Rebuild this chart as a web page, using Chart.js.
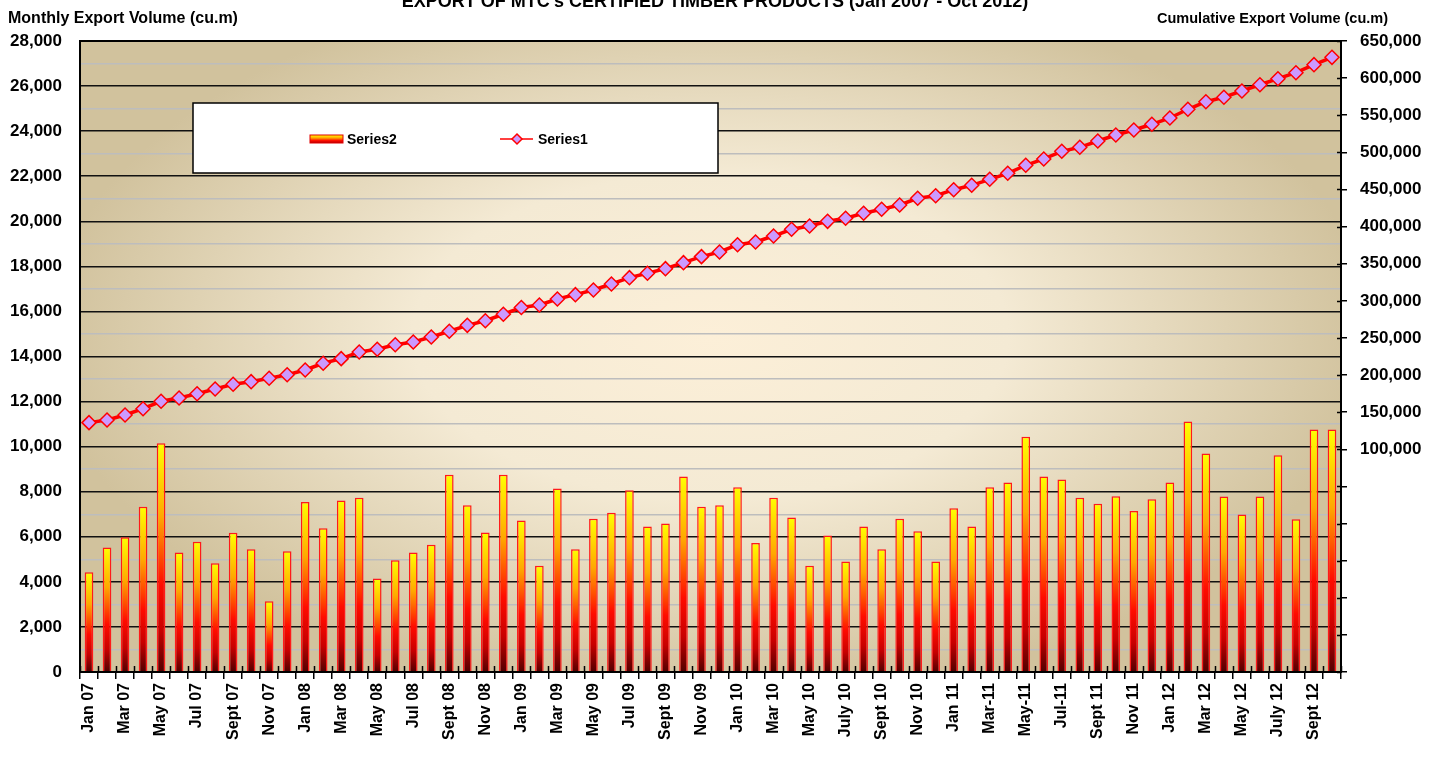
<!DOCTYPE html>
<html>
<head>
<meta charset="utf-8">
<script src="https://cdn.jsdelivr.net/npm/chart.js@4/dist/chart.umd.min.js"></script>
<style>
  body { margin: 0; background: #fff; }
  #wrap { width: 1438px; height: 765px; }
</style>
</head>
<body>
<div id="wrap"><canvas id="exportChart" width="1438" height="765"></canvas></div>
<script>
// month categories, Jan 07 .. Oct 12
const months = [
  'Jan 07', 'Feb 07', 'Mar 07', 'Apr 07', 'May 07', 'Jun 07', 'Jul 07', 'Aug 07', 'Sept 07', 'Oct 07', 'Nov 07', 'Dec 07',
  'Jan 08', 'Feb 08', 'Mar 08', 'Apr 08', 'May 08', 'Jun 08', 'Jul 08', 'Aug 08', 'Sept 08', 'Oct 08', 'Nov 08', 'Dec 08',
  'Jan 09', 'Feb 09', 'Mar 09', 'Apr 09', 'May 09', 'Jun 09', 'Jul 09', 'Aug 09', 'Sept 09', 'Oct 09', 'Nov 09', 'Dec 09',
  'Jan 10', 'Feb 10', 'Mar 10', 'Apr 10', 'May 10', 'June 10', 'July 10', 'Aug 10', 'Sept 10', 'Oct 10', 'Nov 10', 'Dec 10',
  'Jan 11', 'Feb-11', 'Mar-11', 'Apr-11', 'May-11', 'Jun-11', 'Jul-11', 'Aug-11', 'Sept 11', 'Oct 11', 'Nov 11', 'Dec 11',
  'Jan 12', 'Feb 12', 'Mar 12', 'Apr 12', 'May 12', 'June 12', 'July 12', 'Aug 12', 'Sept 12', 'Oct 12'
];

// Series2 - monthly export volume (cu.m)
const monthlyVolume = [
  4430, 5530, 5980, 7330, 10150, 5300, 5780, 4830, 6180, 5450, 3140, 5360,
  7540, 6380, 7610, 7730, 4150, 4960, 5300, 5650, 8750, 7400, 6190, 8750,
  6720, 4710, 8140, 5450, 6800, 7070, 8070, 6460, 6590, 8680, 7330, 7400,
  8200, 5720, 7730, 6860, 4710, 6060, 4900, 6460, 5450, 6800, 6250, 4900,
  7270, 6460, 8200, 8410, 10440, 8680, 8540, 7730, 7470, 7800, 7140, 7670,
  8410, 11120, 9700, 7790, 6990, 7790, 9620, 6780, 10760, 10760
];

// Series1 - cumulative export volume (cu.m)
const cumulativeVolume = [
  135900, 139500, 146200, 154700, 164700, 169100, 174900, 181300, 187600, 191100, 195700, 200500,
  206800, 215900, 222100, 231100, 234700, 240900, 244600, 251300, 259000, 267000, 273200, 281900,
  291000, 294400, 302500, 308300, 314600, 322700, 331200, 337100, 343300, 351400, 359500, 365800,
  375600, 379300, 387300, 396400, 400800, 407100, 411200, 417900, 423300, 429100, 438100, 441600,
  449700, 455600, 463700, 471800, 482600, 491100, 501400, 506800, 515300, 523400, 530100, 537800,
  546300, 558000, 568200, 574200, 582700, 591100, 599200, 607300, 618100, 628000
];

const chartTitle = "EXPORT OF MTC's CERTIFIED TIMBER PRODUCTS (Jan 2007 - Oct 2012)";
const leftTitle = 'Monthly Export Volume (cu.m)';
const rightTitle = 'Cumulative Export Volume (cu.m)';

const FONT = "'Liberation Sans', Arial, sans-serif";
Chart.defaults.font.family = FONT;
Chart.defaults.font.weight = 'bold';
Chart.defaults.color = '#000';

const fmt = v => v.toLocaleString('en-US');

function barGradient(ctx, top, base) {
    const g = ctx.createLinearGradient(0, top, 0, base);
    g.addColorStop(0, '#ffff00');
    g.addColorStop(0.32, '#ffa800');
    g.addColorStop(0.62, '#ff0c00');
    g.addColorStop(0.82, '#c80000');
    g.addColorStop(1, '#500000');
    return g;
}

// cream background with darker tan edges
const plotBackground = {
    id: 'plotBackground',
    beforeDraw(chart) {
        const { ctx, chartArea: a } = chart;
        ctx.save();
        ctx.fillStyle = '#fff';
        ctx.fillRect(0, 0, chart.width, chart.height);
        const cx = (a.left + a.right) / 2, cy = (a.top + a.bottom) / 2 - 20;
        const rx = (a.right - a.left) / 2 * 1.05, ry = (a.bottom - a.top) / 2 * 1.15;
        ctx.beginPath();
        ctx.rect(a.left, a.top, a.right - a.left, a.bottom - a.top);
        ctx.clip();
        ctx.translate(cx, cy);
        ctx.scale(rx / ry, 1);
        const g = ctx.createRadialGradient(0, 0, 0, 0, 0, ry);
        g.addColorStop(0, '#fcefd8');
        g.addColorStop(0.45, '#f4ead4');
        g.addColorStop(1, '#d1c29d');
        ctx.fillStyle = g;
        ctx.fillRect(-ry * 2, -ry * 2, ry * 4, ry * 4);
        ctx.restore();
    }
};

// titles, plot border, inner tick marks and the legend box
const decorations = {
    id: 'decorations',
    afterDraw(chart) {
        const { ctx, chartArea: a, scales } = chart;
        ctx.save();
        ctx.strokeStyle = '#000';
        ctx.lineWidth = 2;
        ctx.strokeRect(a.left, a.top, a.right - a.left, a.bottom - a.top);

        // tick marks also cross into the plot
        ctx.lineWidth = 1.5;
        ctx.beginPath();
        const xs = scales.x;
        for (let i = 0; i <= months.length; i++) {
            const px = Math.round(xs.getPixelForValue(i - 0.5)) + 0.5;
            ctx.moveTo(px, a.bottom - 6);
            ctx.lineTo(px, a.bottom);
        }
        scales.y2.ticks.forEach(t => {
            const py = Math.round(scales.y2.getPixelForValue(t.value)) + 0.5;
            ctx.moveTo(a.right - 4, py);
            ctx.lineTo(a.right, py);
        });
        ctx.stroke();

        ctx.fillStyle = '#000';
        ctx.font = 'bold 18px ' + FONT;
        ctx.textAlign = 'center';
        ctx.textBaseline = 'alphabetic';
        ctx.fillText(chartTitle, 715, 7);

        ctx.font = 'bold 16px ' + FONT;
        ctx.textAlign = 'left';
        ctx.fillText(leftTitle, 8, 23);
        ctx.font = 'bold 14.5px ' + FONT;
        ctx.textAlign = 'right';
        ctx.fillText(rightTitle, 1388, 23);

        // legend
        ctx.textAlign = 'left';
        ctx.fillStyle = '#fff';
        ctx.fillRect(193, 103, 525, 70);
        ctx.lineWidth = 1.5;
        ctx.strokeRect(193, 103, 525, 70);

        const ds = chart.data.datasets;
        ctx.fillStyle = barGradient(ctx, 135, 144);
        ctx.fillRect(310, 135, 33, 8);
        ctx.strokeStyle = '#e00000';
        ctx.lineWidth = 1;
        ctx.strokeRect(310, 135, 33, 8);

        ctx.strokeStyle = '#ff0000';
        ctx.lineWidth = 1.5;
        ctx.beginPath();
        ctx.moveTo(500, 139);
        ctx.lineTo(533, 139);
        ctx.stroke();
        ctx.beginPath();
        ctx.moveTo(517, 134); ctx.lineTo(522, 139); ctx.lineTo(517, 144); ctx.lineTo(512, 139);
        ctx.closePath();
        ctx.fillStyle = '#cc99ff';
        ctx.fill();
        ctx.stroke();

        ctx.fillStyle = '#000';
        ctx.font = 'bold 14px ' + FONT;
        ctx.textBaseline = 'middle';
        ctx.fillText(ds[0].label, 347, 140);
        ctx.fillText(ds[1].label, 538, 140);
        ctx.restore();
    }
};

new Chart(document.getElementById('exportChart'), {
    data: {
        labels: months,
        datasets: [
            {
                type: 'bar',
                label: 'Series2',
                data: monthlyVolume,
                yAxisID: 'y',
                order: 2,
                backgroundColor: c => {
                    const chart = c.chart;
                    if (!chart.chartArea || c.type !== 'data') return '#ff8000';
                    const ys = chart.scales.y;
                    return barGradient(chart.ctx, ys.getPixelForValue(c.raw), ys.getPixelForValue(0));
                },
                borderColor: '#ff1a1a',
                borderWidth: 1.5,
                borderSkipped: 'bottom',
                barPercentage: 0.48,
                categoryPercentage: 1
            },
            {
                type: 'line',
                label: 'Series1',
                data: cumulativeVolume,
                yAxisID: 'y2',
                order: 1,
                borderColor: '#ff0000',
                borderWidth: 3.5,
                tension: 0,
                pointStyle: 'rectRot',
                pointRadius: 7,
                pointBackgroundColor: '#cc99ff',
                pointBorderColor: '#ff0000',
                pointBorderWidth: 1.5
            }
        ]
    },
    options: {
        responsive: false,
        animation: false,
        layout: { padding: { top: 41, left: 0, right: 0, bottom: 0 } },
        plugins: {
            legend: { display: false },
            tooltip: { enabled: false }
        },
        scales: {
            x: {
                offset: true,
                grid: { offset: true, drawOnChartArea: false, color: '#000', tickLength: 7, lineWidth: 1.5 },
                border: { color: '#000', width: 2 },
                ticks: {
                    autoSkip: false,
                    minRotation: 90,
                    maxRotation: 90,
                    padding: 4,
                    font: { size: 16, weight: 'bold' },
                    callback: function (v, i) { return i % 2 === 0 ? this.getLabelForValue(v) : ''; }
                },
                afterFit: s => { s.height = 93; }
            },
            y: {
                position: 'left',
                min: 0,
                max: 28000,
                grid: {
                    drawTicks: false,
                    lineWidth: 1.5,
                    color: c => (c.tick && c.tick.value % 2000 === 0) ? '#111' : '#bdbdbd'
                },
                border: { color: '#000', width: 2 },
                ticks: {
                    stepSize: 1000,
                    autoSkip: false,
                    padding: 18,
                    font: { size: 17, weight: 'bold' },
                    callback: v => v % 2000 === 0 ? fmt(v) : ''
                },
                afterFit: s => { s.width = 80; }
            },
            y2: {
                position: 'right',
                min: -200000,
                max: 650000,
                grid: { drawOnChartArea: false, color: '#000', tickLength: 6, lineWidth: 1.5 },
                border: { color: '#000', width: 2 },
                ticks: {
                    stepSize: 50000,
                    autoSkip: false,
                    padding: 13,
                    font: { size: 17, weight: 'bold' },
                    callback: v => v >= 100000 ? fmt(v) : ''
                },
                afterFit: s => { s.width = 97; }
            }
        }
    },
    plugins: [plotBackground, decorations]
});
</script>
</body>
</html>
